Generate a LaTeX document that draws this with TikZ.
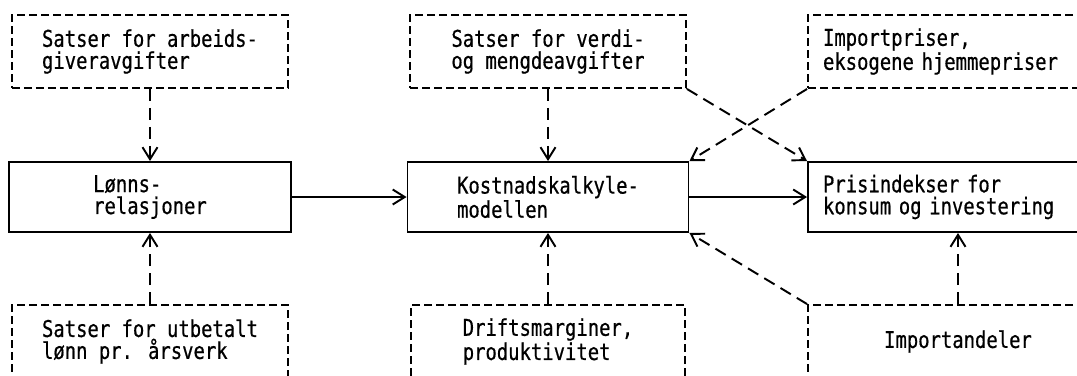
\documentclass[tikz,border=0pt]{standalone}
\usepackage{fontspec}
\usetikzlibrary{arrows.meta}

\newfontfamily\typewriter[FakeStretch=0.82, FakeBold=0.6]{DejaVu Sans Mono}

\tikzset{
  every node/.style={font=\typewriter\fontsize{13.1pt}{12.5pt}\selectfont},
  model/.style={draw, line width=1.1pt, minimum width=56.2mm, minimum height=14mm, align=left},
  given/.style={draw, line width=1.1pt, dash pattern=on 1.6mm off 0.8mm, minimum width=55.2mm, minimum height=14.6mm, align=left},
  wide/.style={text width=54mm, inner xsep=3mm},
  flow/.style={line width=1.1pt, -{Straight Barb[length=2.4mm,width=3mm]}},
  effect/.style={flow, dash pattern=on 2.4mm off 1.4mm}
}

\begin{document}
\begin{tikzpicture}[x=0.2mm, y=-0.2mm]

\useasboundingbox (0,0) rectangle (1077,375);
\clip (0,0) rectangle (1077,375);

% Exogenous inputs, top row
\node [given] (arb)    at (150,51.5) {Satser for arbeids-\\giveravgifter};
\node [given] (verdi)  at (548,51.5) {Satser for verdi-\\og mengdeavgifter};
\node [given, wide] (import) at (958,51.5) {Importpriser,\\eksogene hjemmepriser};

% Model blocks
\node [model, minimum width=56.4mm] (lonn) at (150,197) {Lønns-\\relasjoner};
\node [model] (kost) at (548,197) {Kostnadskalkyle-\\modellen};
\node [model, wide] (pris) at (958,197) {Prisindekser for\\konsum og investering};

% Exogenous inputs, bottom row
\node [given] (utb)    at (150,341.5) {Satser for utbetalt\\lønn pr. årsverk};
\node [given, minimum width=54.8mm] (drift) at (548,341.5) {Driftsmarginer,\\produktivitet};
\node [given, wide, align=center] (impand) at (958,341.5) {Importandeler};

% Main flow
\draw [flow] (lonn) -- (kost);
\draw [flow] (kost) -- (pris);

% Effects of the exogenous inputs
\draw [effect] (arb.south) -- (lonn.north);
\draw [effect] (utb.north) -- (lonn.south);
\draw [effect] (verdi.south) -- (kost.north);
\draw [effect] (drift.north) -- (kost.south);
\draw [effect] (verdi.south east) -- (pris.north west);
\draw [effect] (import.south west) -- (kost.north east);
\draw [effect] (impand.north west) -- (kost.south east);
\draw [effect] (impand.north) -- (pris.south);

\end{tikzpicture}
\end{document}
